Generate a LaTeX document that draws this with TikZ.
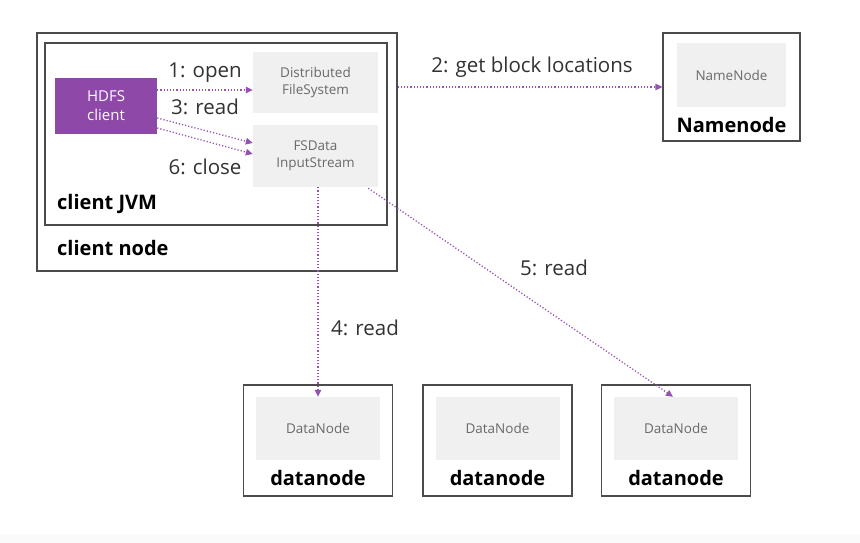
\documentclass[tikz,border=0pt]{standalone}
\usepackage{fontspec}
\setmainfont{Open Sans}
\usetikzlibrary{arrows.meta,calc}
\definecolor{hdfspurple}{RGB}{142,72,168}
\definecolor{arrowpurple}{RGB}{150,82,176}
\definecolor{panelgray}{RGB}{240,240,240}
\definecolor{framegray}{RGB}{75,75,75}
\definecolor{labeltext}{RGB}{50,50,50}
\definecolor{innertext}{RGB}{105,105,105}
\begin{document}
\begin{tikzpicture}[x=1pt,y=-1pt,
  frame/.style={draw=framegray, line width=1.3pt, fill=white, inner sep=0},
  panel/.style={fill=panelgray, inner sep=0, align=center, text=innertext,
    font=\fontsize{13.5}{17}\selectfont},
  caption/.style={font=\bfseries\fontsize{20}{24}\selectfont, text=black, inner sep=0},
  msg/.style={font=\fontsize{20.5}{24}\selectfont, text=labeltext, inner sep=0},
  flow/.style={draw=arrowpurple, line width=1.3pt, dash pattern=on 1.2pt off 2pt,
    -{Triangle[length=7pt,width=6.5pt]}}
]
% canvas
\fill[white] (0,0) rectangle (860,543);
\fill[black!2] (0,534) rectangle (860,543);
\useasboundingbox (0,0) rectangle (860,543);

% client node with its JVM
\node[frame, minimum width=360, minimum height=238] (clientnode) at (217,152) {};
\node[frame, minimum width=342, minimum height=182] (jvm) at (216,134) {};
\node[caption, anchor=west] (jvmlabel) at (57,204) {client JVM};
\node[caption, anchor=west] (cnlabel) at (57,248) {client node};

\node[fill=hdfspurple, text=white, align=center, inner sep=0,
  minimum width=102, minimum height=56,
  font=\fontsize{15}{19}\selectfont] (hdfs) at (106,106) {HDFS\\client};
\node[panel, minimum width=125, minimum height=61] (dfs) at (315.5,82.5) {Distributed\\FileSystem};
\node[panel, minimum width=125, minimum height=62] (fsd) at (315.5,156) {FSData\\InputStream};

% name node
\node[frame, minimum width=137, minimum height=108] (namenode) at (731.5,87) {};
\node[panel, minimum width=109, minimum height=64] (nnin) at (731.5,75) {NameNode};
\node[caption] (nnlabel) at (731.5,125) {Namenode};

% data nodes
\foreach \i/\cx in {1/318,2/497.5,3/676}{
  \node[frame, minimum width=149, minimum height=111] (dn\i) at (\cx,440.5) {};
  \node[panel, minimum width=124, minimum height=63] (dn\i in) at (\cx,428.5) {DataNode};
  \node[caption] (dn\i label) at (\cx,478) {datanode};
}

% messages
\draw[flow] ($(hdfs.east)+(0,-16)$) -- ($(dfs.west)+(0,7.5)$);
\draw[flow] ($(hdfs.east)+(0,12)$) -- ($(fsd.west)+(0,-13)$);
\draw[flow] ($(hdfs.east)+(0,22)$) -- ($(fsd.west)+(0,-2)$);
\draw[flow] (clientnode.east |- namenode.west) -- (namenode.west);
\draw[flow] (fsd.south -| dn1in.north) -- (dn1in.north);
\draw[flow] ($(fsd.south east)+(-10,1)$) -- ($(dn3in.north)+(-3,0)$);

\node[msg] (m1) at (205,73) {1: open};
\node[msg] (m3) at (205,107) {3: read};
\node[msg] (m6) at (205,167) {6: close};
\node[msg] (m2) at (532,67) {2: get block locations};
\node[msg] (m4) at (365,328) {4: read};
\node[msg] (m5) at (554,268) {5: read};
\end{tikzpicture}
\end{document}
